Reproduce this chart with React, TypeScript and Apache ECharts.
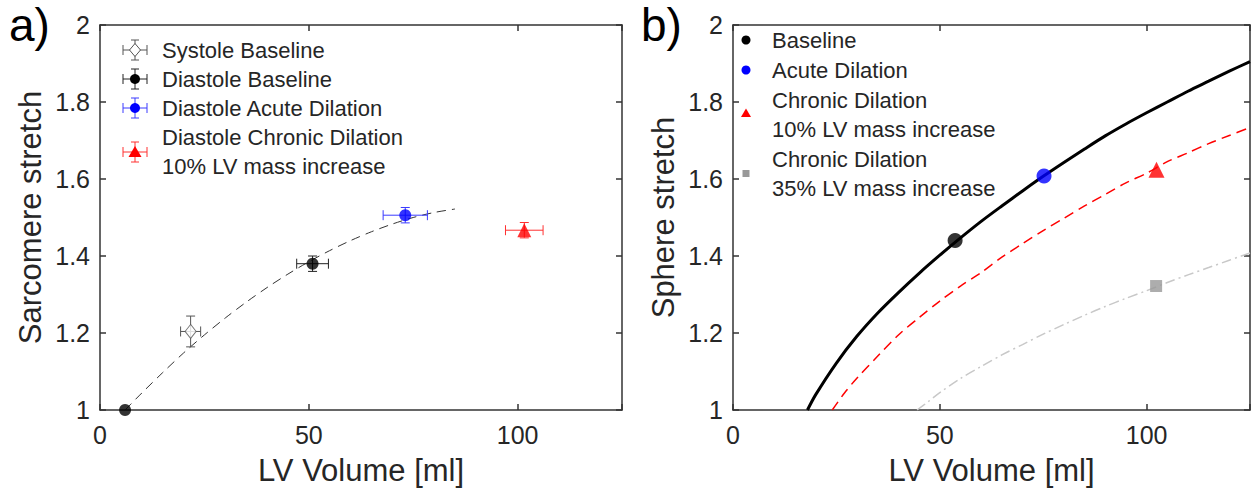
import React, { useEffect, useRef } from "react";
import * as echarts from "echarts";

const FONT = "'Liberation Sans', Arial, Helvetica, sans-serif";

// ---------- axis ticks ----------
const xTicks = [0, 50, 100];
const yTicks = [1, 1.2, 1.4, 1.6, 1.8, 2];
const X_MIN = 0;
const X_MAX = 125;
const X_STEP = 50;
const Y_MIN = 1;
const Y_MAX = 2;
const Y_STEP = 0.2;

// ---------- panel a: [volume, stretch, volume error, stretch error] ----------
const systoleBaseline = [[21.7, 1.204, 2.4, 0.04]];
const diastoleBaseline = [
  [6, 1.0, 0, 0],
  [50.9, 1.38, 3.8, 0.02],
];
const diastoleAcute = [[73.1, 1.506, 5.3, 0.02]];
const diastoleChronic = [[101.6, 1.467, 4.5, 0.02]];
const fitCurveA = [
  [6, 1.0], [10, 1.044], [15, 1.097], [20, 1.148], [25, 1.195], [30, 1.239],
  [35, 1.28], [40, 1.318], [45, 1.353], [50, 1.385], [55, 1.414], [60, 1.44],
  [65, 1.463], [70, 1.483], [75, 1.5], [80, 1.513], [85, 1.522],
];

// ---------- panel b ----------
const baselineB = [[53.7, 1.44]];
const acuteB = [[75.2, 1.608]];
const chronic10B = [[102.4, 1.624]];
const chronic35B = [[102.3, 1.322]];
const curveBaseline = [
  [18, 1.0], [20, 1.04], [25, 1.122], [30, 1.192], [35, 1.252], [40, 1.305],
  [45, 1.355], [50, 1.402], [55, 1.447], [60, 1.49], [65, 1.53], [70, 1.569],
  [75, 1.607], [80, 1.643], [85, 1.678], [90, 1.712], [95, 1.743], [100, 1.772],
  [105, 1.8], [110, 1.828], [115, 1.854], [120, 1.88], [125, 1.905],
];
const curve10 = [
  [24, 1.0], [27, 1.045], [30, 1.083], [35, 1.14], [40, 1.195], [45, 1.24],
  [50, 1.283], [55, 1.322], [60, 1.357], [65, 1.397], [70, 1.432], [75, 1.466],
  [80, 1.498], [85, 1.53], [90, 1.56], [95, 1.59], [100, 1.615], [105, 1.645],
  [110, 1.668], [115, 1.692], [120, 1.713], [125, 1.734],
];
const curve35 = [
  [44.5, 1.0], [47, 1.02], [50, 1.045], [55, 1.082], [60, 1.113], [65, 1.143],
  [70, 1.17], [75, 1.197], [80, 1.222], [85, 1.246], [90, 1.269], [95, 1.29],
  [100, 1.31], [105, 1.331], [110, 1.351], [115, 1.37], [120, 1.389], [125, 1.408],
];

// ---------- legend labels ----------
const legendA = [
  "Systole Baseline",
  "Diastole Baseline",
  "Diastole Acute Dilation",
  "Diastole Chronic Dilation\n10% LV mass increase",
];
const legendB = [
  "Baseline",
  "Acute Dilation",
  "Chronic Dilation\n10% LV mass increase",
  "Chronic Dilation\n35% LV mass increase",
];
const panelLabels = ["a)", "b)"];

const AXIS_COLOR = "#333333";
const TEXT_COLOR = "#262626";

function mkX(gridIndex: number, position: string, labels: boolean) {
  return {
    type: "value",
    gridIndex,
    position,
    min: X_MIN,
    max: X_MAX,
    interval: X_STEP,
    axisLine: { show: true, onZero: false, lineStyle: { color: AXIS_COLOR, width: 1.5 } },
    axisTick: { show: true, inside: true, length: 6, lineStyle: { color: AXIS_COLOR, width: 1.5 } },
    axisLabel: {
      show: labels,
      fontSize: 25,
      fontFamily: FONT,
      color: TEXT_COLOR,
      margin: 12,
      formatter: (v: number) => (xTicks.includes(v) ? String(v) : ""),
    },
    splitLine: { show: false },
    name: labels ? "LV Volume [ml]" : "",
    nameLocation: "middle",
    nameGap: 45,
    nameTextStyle: { fontSize: 31, fontFamily: FONT, color: TEXT_COLOR },
  };
}

function mkY(gridIndex: number, position: string, labels: boolean, name: string) {
  return {
    type: "value",
    gridIndex,
    position,
    min: Y_MIN,
    max: Y_MAX,
    interval: Y_STEP,
    axisLine: { show: true, onZero: false, lineStyle: { color: AXIS_COLOR, width: 1.5 } },
    axisTick: { show: true, inside: true, length: 6, lineStyle: { color: AXIS_COLOR, width: 1.5 } },
    axisLabel: {
      show: labels,
      fontSize: 25,
      fontFamily: FONT,
      color: TEXT_COLOR,
      margin: 10,
      formatter: (v: number) => {
        const r = Math.round(v * 10) / 10;
        return yTicks.some((t) => Math.abs(t - r) < 1e-9) ? String(r) : "";
      },
    },
    splitLine: { show: false },
    name: labels ? name : "",
    nameLocation: "middle",
    nameGap: 54,
    nameTextStyle: { fontSize: 31, fontFamily: FONT, color: TEXT_COLOR },
  };
}

function errSeries(data: number[][], color: string, xi: number, yi: number) {
  return {
    type: "custom",
    xAxisIndex: xi,
    yAxisIndex: yi,
    data,
    z: 3,
    silent: true,
    encode: { x: 0, y: 1 },
    renderItem: (params: any, api: any) => {
      const x = api.value(0);
      const y = api.value(1);
      const ex = api.value(2);
      const ey = api.value(3);
      const children: any[] = [];
      const st = { stroke: color, lineWidth: 1 };
      if (ex > 0) {
        const l = api.coord([x - ex, y]);
        const r = api.coord([x + ex, y]);
        children.push({ type: "line", shape: { x1: l[0], y1: l[1], x2: r[0], y2: r[1] }, style: st });
        children.push({ type: "line", shape: { x1: l[0], y1: l[1] - 5, x2: l[0], y2: l[1] + 5 }, style: st });
        children.push({ type: "line", shape: { x1: r[0], y1: r[1] - 5, x2: r[0], y2: r[1] + 5 }, style: st });
      }
      if (ey > 0) {
        const t = api.coord([x, y + ey]);
        const b = api.coord([x, y - ey]);
        children.push({ type: "line", shape: { x1: t[0], y1: t[1], x2: b[0], y2: b[1] }, style: st });
        children.push({ type: "line", shape: { x1: t[0] - 4.5, y1: t[1], x2: t[0] + 4.5, y2: t[1] }, style: st });
        children.push({ type: "line", shape: { x1: b[0] - 4.5, y1: b[1], x2: b[0] + 4.5, y2: b[1] }, style: st });
      }
      return { type: "group", children };
    },
  };
}

function scatter(data: number[][], symbol: string, size: any, itemStyle: any, xi: number, yi: number) {
  return {
    type: "scatter",
    xAxisIndex: xi,
    yAxisIndex: yi,
    data: data.map((d) => [d[0], d[1]]),
    symbol,
    symbolSize: size,
    itemStyle,
    z: 5,
    silent: true,
  };
}

function curve(data: number[][], color: string, width: number, type: any, xi: number, yi: number) {
  return {
    type: "line",
    xAxisIndex: xi,
    yAxisIndex: yi,
    data,
    showSymbol: false,
    smooth: 0.3,
    lineStyle: { color, width, type },
    z: 2,
    silent: true,
  };
}

function errCross(cx: number, cy: number, color: string) {
  const st = { stroke: color, lineWidth: 1 };
  return [
    { type: "line", shape: { x1: cx - 12, y1: cy, x2: cx + 12, y2: cy }, style: st },
    { type: "line", shape: { x1: cx - 12, y1: cy - 5, x2: cx - 12, y2: cy + 5 }, style: st },
    { type: "line", shape: { x1: cx + 12, y1: cy - 5, x2: cx + 12, y2: cy + 5 }, style: st },
    { type: "line", shape: { x1: cx, y1: cy - 10, x2: cx, y2: cy + 10 }, style: st },
    { type: "line", shape: { x1: cx - 4, y1: cy - 10, x2: cx + 4, y2: cy - 10 }, style: st },
    { type: "line", shape: { x1: cx - 4, y1: cy + 10, x2: cx + 4, y2: cy + 10 }, style: st },
  ];
}

function legendText(x: number, y: number, text: string) {
  return {
    type: "text",
    x,
    y,
    style: {
      text,
      fontSize: 22,
      fontFamily: FONT,
      fill: TEXT_COLOR,
      verticalAlign: "middle",
      lineHeight: 29,
    },
  };
}

function panelText(x: number, text: string) {
  return {
    type: "text",
    x,
    y: 25,
    style: {
      text,
      fontSize: 46,
      lineHeight: 46,
      fontFamily: FONT,
      fill: "#000",
      verticalAlign: "middle",
    },
  };
}

function buildGraphics() {
  const g: any[] = [];
  // panel labels
  g.push(panelText(9, panelLabels[0]));
  g.push(panelText(641, panelLabels[1]));

  // legend a
  const mxA = 135;
  const txA = 162;
  g.push(...errCross(mxA, 50, "#555"));
  g.push({ type: "polygon", shape: { points: [[mxA, 43.5], [mxA + 5.5, 50], [mxA, 56.5], [mxA - 5.5, 50]] }, style: { fill: "#fff", stroke: "#555", lineWidth: 1 } });
  g.push(legendText(txA, 50, legendA[0]));
  g.push(...errCross(mxA, 79, "#222"));
  g.push({ type: "circle", shape: { cx: mxA, cy: 79, r: 5 }, style: { fill: "#000" } });
  g.push(legendText(txA, 79, legendA[1]));
  g.push(...errCross(mxA, 108, "#3a3aff"));
  g.push({ type: "circle", shape: { cx: mxA, cy: 108, r: 5 }, style: { fill: "#0000ff" } });
  g.push(legendText(txA, 108, legendA[2]));
  g.push(...errCross(mxA, 152, "#ff3030"));
  g.push({ type: "polygon", shape: { points: [[mxA, 146], [mxA + 6.5, 157], [mxA - 6.5, 157]] }, style: { fill: "#ff0000" } });
  g.push(legendText(txA, 152, legendA[3]));

  // legend b
  const mxB = 746;
  const txB = 772;
  g.push({ type: "circle", shape: { cx: mxB, cy: 40, r: 4.5 }, style: { fill: "#000" } });
  g.push(legendText(txB, 40, legendB[0]));
  g.push({ type: "circle", shape: { cx: mxB, cy: 70, r: 4.5 }, style: { fill: "#0000ff" } });
  g.push(legendText(txB, 70, legendB[1]));
  g.push({ type: "polygon", shape: { points: [[mxB, 108.5], [mxB + 5, 117], [mxB - 5, 117]] }, style: { fill: "#ff0000" } });
  g.push(legendText(txB, 115, legendB[2]));
  g.push({ type: "rect", shape: { x: mxB - 3.5, y: 170, width: 7, height: 7 }, style: { fill: "#999999" } });
  g.push(legendText(txB, 174, legendB[3]));
  return g;
}

export default function App() {
  const ref = useRef<HTMLDivElement>(null);
  useEffect(() => {
    if (!ref.current) return;
    const chart = echarts.init(ref.current, null, { renderer: "svg" });
    const option: any = {
      animation: false,
      backgroundColor: "#ffffff",
      grid: [
        { left: 100, top: 25, width: 522, height: 385 },
        { left: 733, top: 25, width: 519, height: 385 },
      ],
      xAxis: [mkX(0, "bottom", true), mkX(0, "top", false), mkX(1, "bottom", true), mkX(1, "top", false)],
      yAxis: [
        mkY(0, "left", true, "Sarcomere stretch"),
        mkY(0, "right", false, ""),
        mkY(1, "left", true, "Sphere stretch"),
        mkY(1, "right", false, ""),
      ],
      series: [
        // panel a
        curve(fitCurveA, "#333333", 1, [9, 6], 0, 0),
        errSeries(systoleBaseline, "#555555", 0, 0),
        errSeries(diastoleBaseline, "#222222", 0, 0),
        errSeries(diastoleAcute, "#3a3aff", 0, 0),
        errSeries(diastoleChronic, "#ff3030", 0, 0),
        scatter(systoleBaseline, "diamond", [11, 14], { color: "#ffffff", borderColor: "#555555", borderWidth: 1 }, 0, 0),
        scatter(diastoleBaseline, "circle", 12, { color: "#000000" }, 0, 0),
        scatter(diastoleAcute, "circle", 12, { color: "#0000ff" }, 0, 0),
        scatter(diastoleChronic, "triangle", 14, { color: "#ff0000" }, 0, 0),
        // panel b
        curve(curveBaseline, "#000000", 3, "solid", 2, 2),
        curve(curve10, "#ff0000", 1.5, [10, 6], 2, 2),
        curve(curve35, "#c8c8c8", 1.5, [10, 4, 2, 4], 2, 2),
        scatter(baselineB, "circle", 15, { color: "#000000" }, 2, 2),
        scatter(acuteB, "circle", 15, { color: "#0000ff" }, 2, 2),
        scatter(chronic10B, "triangle", 16, { color: "#ff0000" }, 2, 2),
        scatter(chronic35B, "rect", 12, { color: "#999999" }, 2, 2),
      ],
      graphic: buildGraphics(),
    };
    chart.setOption(option);
    return () => chart.dispose();
  }, []);
  return (
    <div
      ref={ref}
      style={{ position: "absolute", left: 0, top: 0, width: 1253, height: 499, background: "#fff" }}
    />
  );
}
